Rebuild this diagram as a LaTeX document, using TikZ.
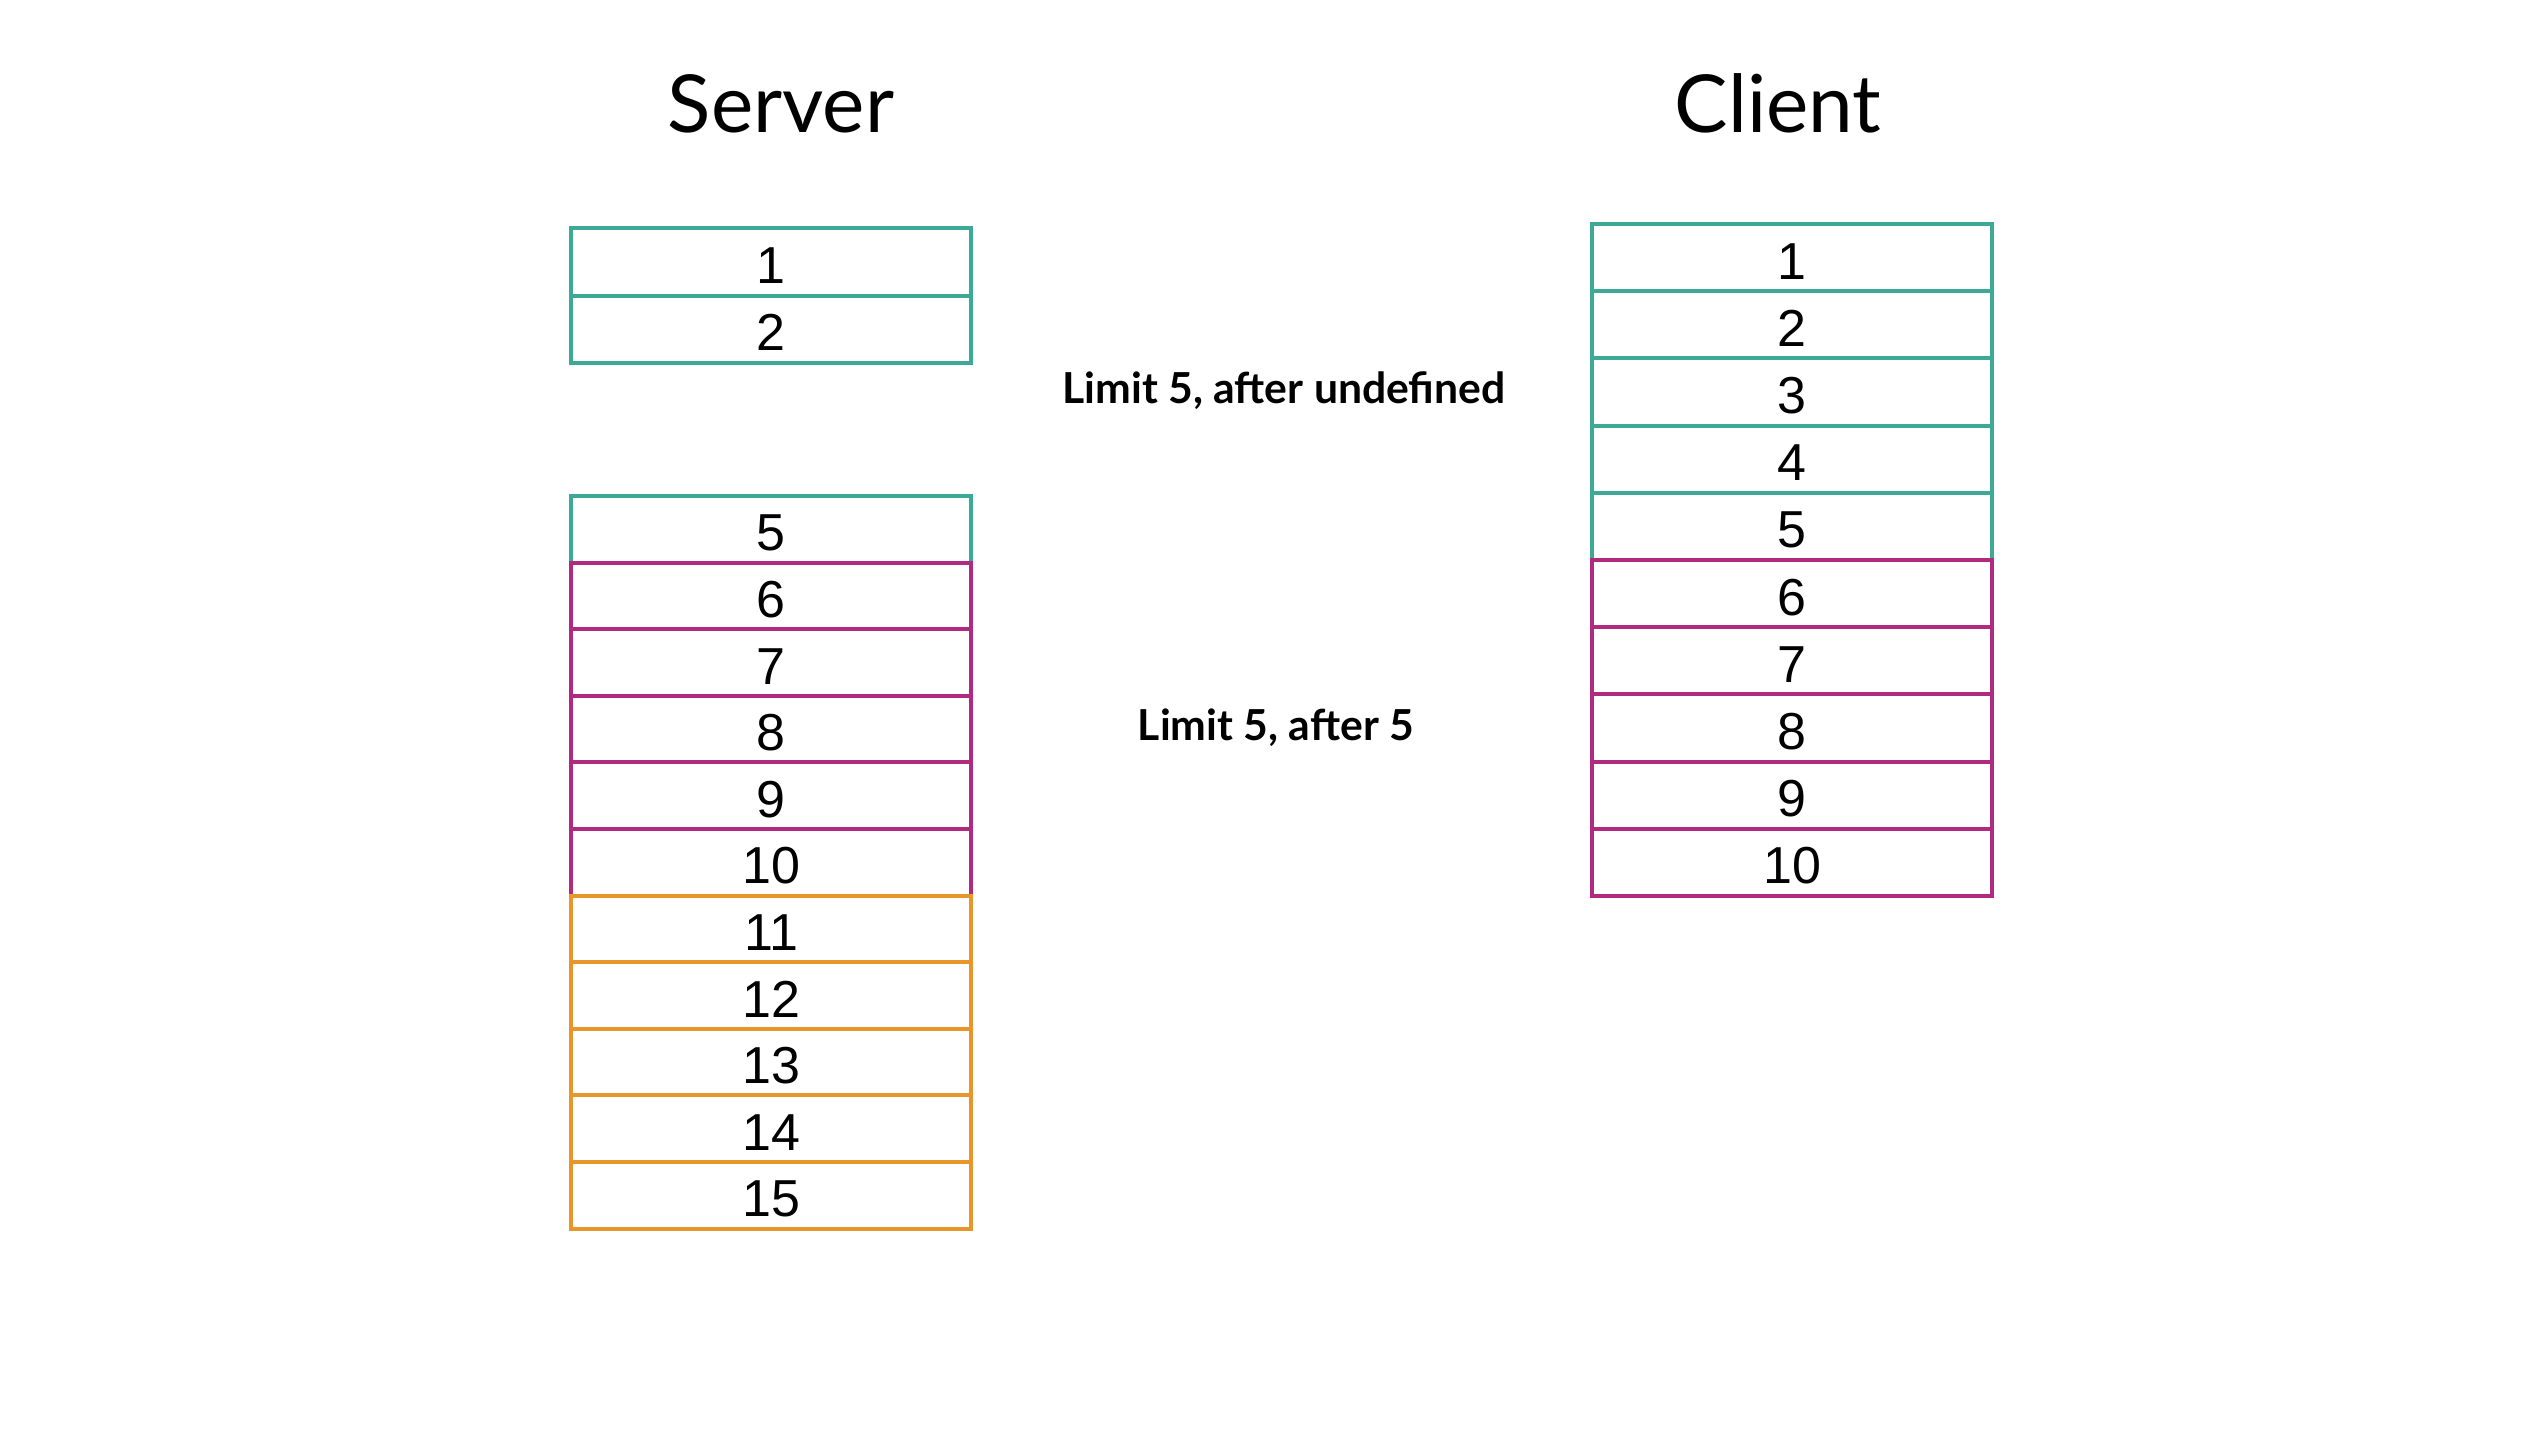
\documentclass[tikz,border=0pt]{standalone}
\usepackage{fontspec}
\setmainfont{Liberation Sans}
\newfontfamily\titlefont{Lato}
\newfontfamily\labelfont{Lato}[UprightFont=* Bold]
\definecolor{tealc}{HTML}{3DAA97}
\definecolor{magc}{HTML}{B02A80}
\definecolor{orgc}{HTML}{E8952A}
\tikzset{
  cell/.style={draw, line width=4pt, minimum width=400pt, inner sep=0pt, text height=43pt, text depth=0pt, font=\fontsize{52}{52}\selectfont, text=black},
  tcell/.style={cell, draw=tealc},
  mcell/.style={cell, draw=magc},
  ocell/.style={cell, draw=orgc},
  title/.style={anchor=base, font=\titlefont\fontsize{80}{80}\selectfont},
  lab/.style={anchor=base, font=\labelfont\fontsize{42.7}{42.7}\selectfont}
}
\begin{document}
\begin{tikzpicture}[x=1pt,y=-1pt]
\useasboundingbox (0,0) rectangle (2546,1432);
\fill[white] (0,0) rectangle (2546,1432);
\node[title] (stitle) at (781,132) {Server};
\node[title] (ctitle) at (1778,132) {Client};
\node[lab] (l1) at (1284,403) {Limit 5, after undefined};
\node[lab] (l2) at (1276,740) {Limit 5, after 5};
% server top
\node[tcell, minimum height=67.5pt] (s1) at (771,261.75) {1};
\node[tcell, minimum height=67.5pt] (s2) at (771,329.25) {2};
% server rest
\foreach \i in {5,...,15}{
  \pgfmathsetmacro{\yc}{496+(\i-5)*66.6+33.3}
  \ifnum\i=5 \def\st{tcell}\else\ifnum\i<11 \def\st{mcell}\else\def\st{ocell}\fi\fi
  \node[\st, minimum height=66.6pt] (s\i) at (771,\yc) {\i};
}
% client
\foreach \i in {1,...,10}{
  \pgfmathsetmacro{\yc}{224+(\i-1)*67.2+33.6}
  \ifnum\i<6 \def\st{tcell}\else\def\st{mcell}\fi
  \node[\st, minimum height=67.2pt] (c\i) at (1792,\yc) {\i};
}
\end{tikzpicture}
\end{document}
